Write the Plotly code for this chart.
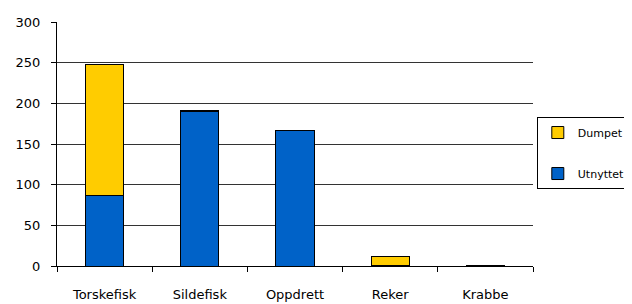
import plotly.graph_objects as go

categories = ["Torskefisk", "Sildefisk", "Oppdrett", "Reker", "Krabbe"]
utnyttet = [87, 190, 167, 1, 1]
dumpet = [161, 1, 0, 11, 0]
y_ticks = [0, 50, 100, 150, 200, 250, 300]

font_family = "DejaVu Sans"

fig = go.Figure()
fig.add_trace(go.Bar(
    x=categories, y=utnyttet, name="Utnyttet", legendgroup="u", legendrank=2,
    marker=dict(color="#0062C8", line=dict(color="black", width=1)),
    width=0.4,
))
fig.add_trace(go.Bar(
    x=categories, y=dumpet, name="Dumpet", legendgroup="d", legendrank=1,
    marker=dict(color="#FFCC00", line=dict(color="black", width=1)),
    width=0.4,
))

fig.update_layout(
    barmode="stack",
    width=624, height=296,
    margin=dict(l=49, r=99, t=14, b=38, autoexpand=False),
    plot_bgcolor="white", paper_bgcolor="white",
    font=dict(family=font_family, size=13, color="black"),
    showlegend=True,
    legend=dict(
        x=1.008, y=0.463, xanchor="left", yanchor="middle",
        bordercolor="black", borderwidth=1,
        traceorder="grouped", tracegroupgap=22,
        font=dict(size=11), itemwidth=30,
    ),
)
fig.update_xaxes(
    showline=True, linecolor="black", linewidth=1,
    ticks="outside", tickson="boundaries", ticklen=5, tickcolor="black",
    showgrid=False, ticklabelstandoff=16,
)
fig.update_yaxes(
    range=[0, 300], tickvals=y_ticks,
    showline=True, linecolor="black", linewidth=1,
    ticks="outside", ticklen=5, tickcolor="black",
    showgrid=True, gridcolor="#333333", gridwidth=1,
    zeroline=False, ticklabelstandoff=8,
)

fig.write_html("out.html")
